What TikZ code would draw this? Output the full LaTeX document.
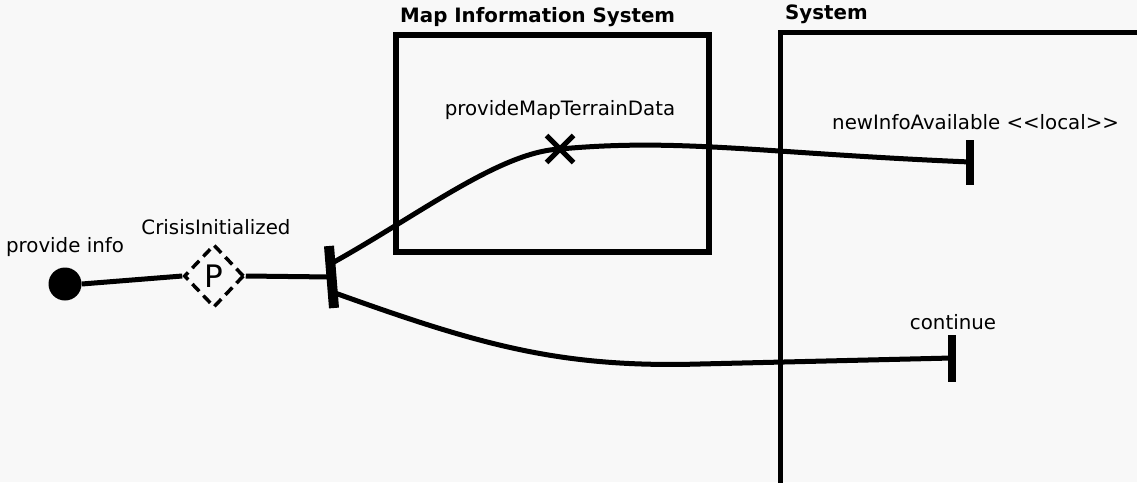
\documentclass[tikz,border=0pt]{standalone}
\usepackage{fontspec}
\setmainfont{DejaVu Sans}
\usetikzlibrary{shapes.geometric,shapes.misc}
\definecolor{bg}{HTML}{F8F8F8}
\tikzset{
  label text/.style={font=\fontsize{19.8}{21}\selectfont, inner sep=0pt},
  title text/.style={font=\fontsize{19.8}{21}\selectfont\bfseries, inner sep=0pt, anchor=west},
  region/.style={line width=6pt},
  flow/.style={line width=5pt},
}
\begin{document}
\begin{tikzpicture}[x=1pt,y=-1pt]
  \fill[bg] (0,0) rectangle (1137,482);
  \useasboundingbox (0,0) rectangle (1137,482);

  % containing regions
  \draw[region] (396,35) rectangle (709,252);
  \node[title text] (mapTitle) at (400,17) {Map Information System};
  \draw[line width=5pt] (1145,32) -- (780,32) -- (780,490);
  \node[title text] (sysTitle) at (785,14) {System};

  % start point and condition
  \node[circle, fill=black, minimum size=33pt, inner sep=0pt] (start) at (65,284) {};
  \node[label text, anchor=center] (startLbl) at (65,247) {provide info};
  \node[diamond, draw, dashed, dash pattern=on 10pt off 6pt, line width=3.5pt,
        minimum width=60pt, minimum height=63pt, inner sep=0pt,
        font=\fontsize{31}{32}\selectfont] (cond) at (214,276) {P};
  \node[label text] (condLbl) at (216,227) {CrisisInitialized};

  % fork bar
  \coordinate (forkTop) at (329,246);
  \coordinate (forkBot) at (334,308);
  \draw[line width=10pt] (forkTop) -- (forkBot);
  \coordinate (forkIn) at (331,277);
  \coordinate (forkUp) at (334,262);
  \coordinate (forkDown) at (335,293);

  % step marker
  \node[cross out, draw, line width=5pt, minimum width=22pt, minimum height=22pt,
        inner sep=0pt] (step1) at (560,149) {};
  \node[label text] (step1Lbl) at (560,110) {provideMapTerrainData};

  % end bars
  \coordinate (endA) at (970,162);
  \draw[line width=8pt] (970,140) -- (970,185);
  \node[label text, anchor=west] (endALbl) at (832,122) {newInfoAvailable <{}<local>{}>};
  \coordinate (endB) at (952,358);
  \draw[line width=8pt] (952,335) -- (952,382);
  \node[label text] (endBLbl) at (953,322) {continue};

  % connectors
  \draw[flow] (start.east) -- (cond.west);
  \draw[flow] (cond.east) -- (forkIn);
  \draw[flow] (forkUp) .. controls (420,214) and (500,152) .. (step1.center);
  \draw[flow] (step1.center) .. controls (680,138) and (760,153) .. (endA);
  \draw[flow] (forkDown) .. controls (480,345) and (560,368) .. (700,364) -- (endB);
\end{tikzpicture}
\end{document}
